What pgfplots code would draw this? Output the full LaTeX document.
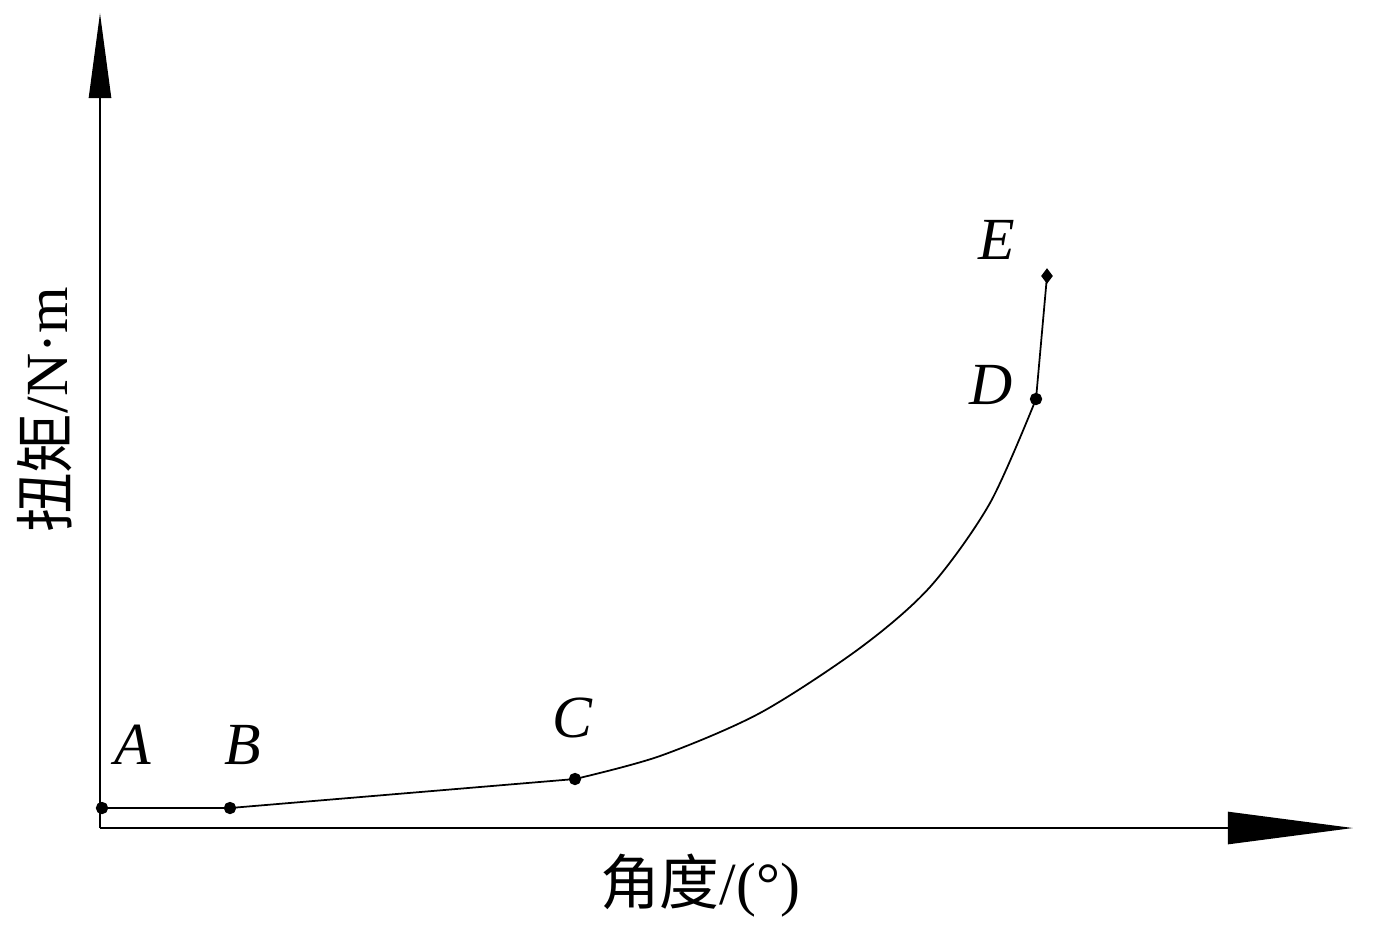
\documentclass[border=0pt]{standalone}
\usepackage{fontspec}
\setmainfont{Liberation Serif}
\newfontfamily\cjk{Noto Sans CJK SC}
\usepackage{pgfplots}
\pgfplotsset{compat=1.18}
\usetikzlibrary{arrows.meta}

\begin{document}
\begin{tikzpicture}
\begin{axis}[
  x=0.01cm, y=0.01cm,
  xmin=0, xmax=1253, ymin=0, ymax=815,
  axis lines=left,
  axis line style={line width=0.7pt},
  x axis line style={-{Triangle[length=1.25cm,width=0.32cm]}},
  y axis line style={-{Triangle[length=0.85cm,width=0.22cm]}},
  xtick=\empty, ytick=\empty,
  clip=false,
  every axis plot/.append style={black, line width=0.5pt},
]
  % A - B - C : straight pieces
  \addplot[sharp plot] coordinates {(2,20) (130,20) (475,49)};
  % C - D : smooth rise
  \addplot[smooth] coordinates {
    (475,49) (560,72) (660,115) (760,180) (830,241)
    (890,325) (936,429)
  };
  % D - E
  \addplot[sharp plot] coordinates {(936,429) (947,552)};
  % point marks
  \addplot[only marks, mark=*, mark size=1.5pt] coordinates {
    (2,20) (130,20) (475,49) (936,429)
  };
  \addplot[only marks, mark=diamond*, mark size=1.8pt] coordinates {(947,552)};

  % point names
  \begin{scope}[font=\fontsize{17}{20}\selectfont\itshape]
    \node at (axis cs:33,83)  {A};
    \node at (axis cs:143,83) {B};
    \node at (axis cs:472,110) {C};
    \node at (axis cs:891,443) {D};
    \node at (axis cs:897,588) {E};
  \end{scope}

  % axis titles
  \node[font=\fontsize{17}{20}\selectfont] at (axis cs:600,-58)
    {{\cjk 角度}/(°)};
  \node[font=\fontsize{17}{20}\selectfont, rotate=90] at (axis cs:-55,418)
    {{\cjk 扭矩}/N·m};

  \coordinate (bl) at (axis cs:-100,-102);
  \coordinate (tr) at (axis cs:1278,828);
\end{axis}
\pgfresetboundingbox
\path (bl) rectangle (tr);
\end{tikzpicture}
\end{document}
